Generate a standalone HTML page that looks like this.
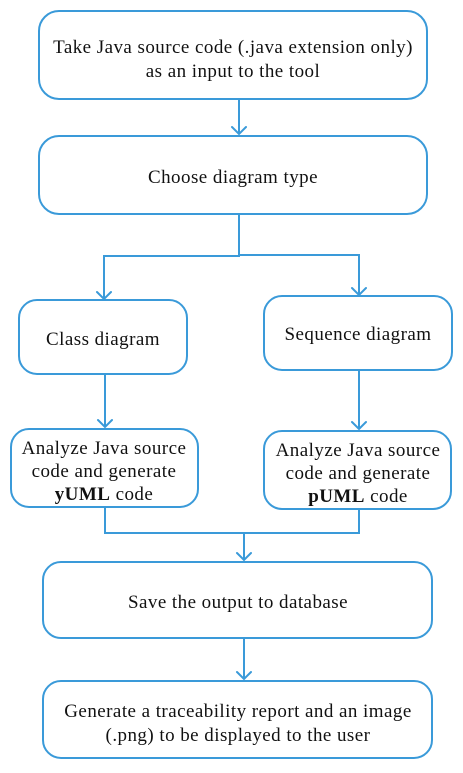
<!DOCTYPE html><html><head><style>body{margin:0;background:#fff}svg{display:block}text{font-family:"Liberation Serif",serif;font-size:19px;letter-spacing:0.45px;fill:#111;text-anchor:middle}</style></head><body>
<svg width="463" height="773" viewBox="0 0 463 773" fill="none" stroke="#3a9ad9" stroke-width="2">
<rect x="39" y="11" width="388" height="88" rx="20"/>
<rect x="39" y="136" width="388" height="78" rx="20"/>
<rect x="19" y="300" width="168" height="74" rx="18"/>
<rect x="264" y="296" width="188" height="74" rx="18"/>
<rect x="11" y="429" width="187" height="78" rx="18"/>
<rect x="264" y="431" width="187" height="78" rx="18"/>
<rect x="43" y="562" width="389" height="76" rx="18"/>
<rect x="43" y="681" width="389" height="77" rx="18"/>
<path d="M239 99V134M239 214V256H104V299M239 255H359V295M105 374V427M359 370V429M105 507V533H359V509M244 533V560M244 638V679"/>
<g stroke-linecap="round"><path d="M232 127L239 134L246 127M97 292L104 299L111 292M352 288L359 295L366 288M98 420L105 427L112 420M352 422L359 429L366 422M237 553L244 560L251 553M237 672L244 679L251 672"/></g>
<g stroke="none">
<text x="233" y="53">Take Java source code (.java extension only)</text>
<text x="233" y="77">as an input to the tool</text>
<text x="233" y="183">Choose diagram type</text>
<text x="103" y="345">Class diagram</text>
<text x="358" y="340">Sequence diagram</text>
<text x="104" y="454">Analyze Java source</text>
<text x="104" y="477">code and generate</text>
<text x="104" y="500"><tspan font-weight="bold">yUML</tspan> code</text>
<text x="358" y="456">Analyze Java source</text>
<text x="358" y="479">code and generate</text>
<text x="358" y="502"><tspan font-weight="bold">pUML</tspan> code</text>
<text x="238" y="608">Save the output to database</text>
<text x="238" y="717">Generate a traceability report and an image</text>
<text x="238" y="741">(.png) to be displayed to the user</text>
</g></svg></body></html>
